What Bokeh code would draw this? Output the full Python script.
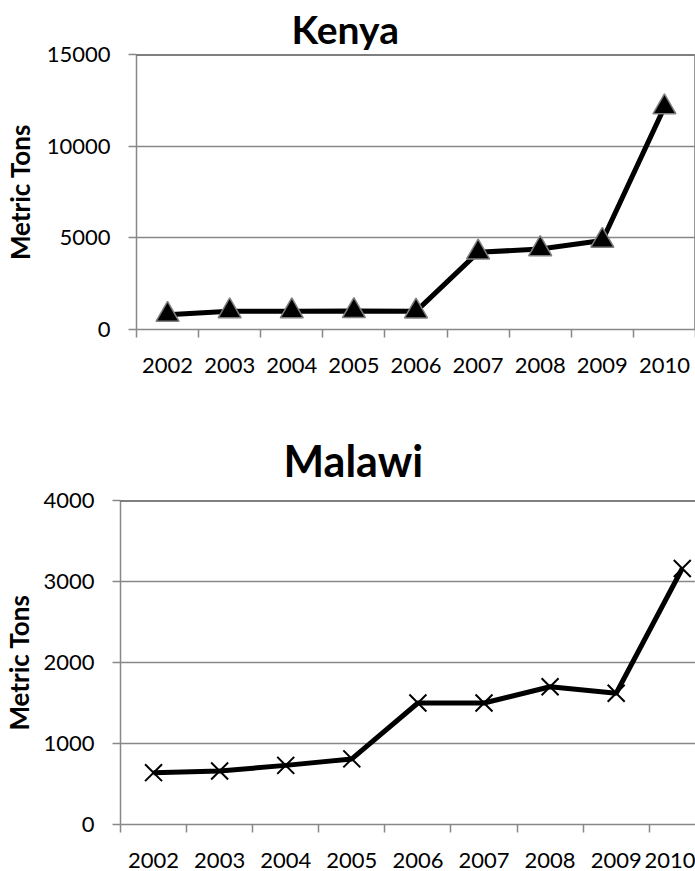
from bokeh.plotting import figure
from bokeh.models import FixedTicker, Span, Range1d
from bokeh.layouts import column
from bokeh.embed import file_html
from bokeh.resources import INLINE

# ---- data ----
years = ["2002", "2003", "2004", "2005", "2006", "2007", "2008", "2009", "2010"]
kenya_tons = [810, 1000, 1000, 1010, 990, 4210, 4390, 4850, 12130]
malawi_tons = [640, 660, 730, 810, 1500, 1500, 1700, 1620, 3160]
kenya_yticks = [0, 5000, 10000, 15000]
malawi_yticks = [0, 1000, 2000, 3000, 4000]
y_title = "Metric Tons"

FONT = "Lato"
GRAY = "#888888"


def make_chart(title, values, yticks, height, x_end, b_left, b_top, b_bottom,
               title_size, title_offset, title_standoff, title_valign,
               tick_standoff, label_standoff, right_border):
    n = len(years)
    xs = [i + 0.5 for i in range(n)]
    p = figure(width=695, height=height, title=title,
               x_range=Range1d(0, x_end), y_range=Range1d(0, yticks[-1]),
               output_backend="svg", toolbar_location=None,
               min_border_left=b_left, min_border_right=0,
               min_border_top=b_top, min_border_bottom=b_bottom)
    p.frame_align = False
    p.outline_line_color = None
    p.background_fill_color = "white"
    p.border_fill_color = "white"

    t = p.title
    t.align = "left"
    t.vertical_align = title_valign
    t.offset = title_offset
    t.standoff = title_standoff
    t.text_font = FONT
    t.text_font_style = "bold"
    t.text_font_size = f"{title_size}px"
    t.text_color = "black"

    # x axis: labels centred in categories, tick marks on boundaries
    xa = p.xaxis[0]
    xa.ticker = FixedTicker(ticks=xs, minor_ticks=list(range(n + 1)))
    xa.major_label_overrides = {x: y for x, y in zip(xs, years)}
    xa.major_tick_out = 0
    xa.major_tick_in = 0
    xa.minor_tick_out = 8
    xa.minor_tick_in = 0
    xa.minor_tick_line_color = GRAY
    xa.minor_tick_line_width = 1.5
    xa.axis_line_color = GRAY
    xa.axis_line_width = 1.5
    xa.major_label_standoff = 20
    xa.major_label_text_font = FONT
    xa.major_label_text_font_size = "22px"
    xa.major_label_text_color = "black"

    ya = p.yaxis[0]
    ya.ticker = FixedTicker(ticks=yticks, minor_ticks=[])
    ya.major_label_overrides = {v: str(v) for v in yticks}
    ya.major_tick_out = 8
    ya.major_tick_in = 0
    ya.major_tick_line_color = GRAY
    ya.major_tick_line_width = 1.5
    ya.axis_line_color = GRAY
    ya.axis_line_width = 1.5
    ya.major_label_standoff = tick_standoff
    ya.major_label_text_font = FONT
    ya.major_label_text_font_size = "22px"
    ya.major_label_text_color = "black"
    ya.axis_label = y_title
    ya.axis_label_text_font = FONT
    ya.axis_label_text_font_style = "bold"
    ya.axis_label_text_font_size = "26px"
    ya.axis_label_text_color = "black"
    ya.axis_label_standoff = label_standoff

    p.xgrid.grid_line_color = None
    p.ygrid.ticker = FixedTicker(ticks=yticks[1:-1])
    p.ygrid.grid_line_color = GRAY
    p.ygrid.grid_line_width = 1.5

    p.add_layout(Span(location=yticks[-1], dimension="width",
                      line_color="black", line_width=2))
    if right_border:
        p.add_layout(Span(location=x_end - 0.01, dimension="height",
                          line_color=GRAY, line_width=1.5))

    p.line(xs, values, line_color="black", line_width=5)
    return p, xs


p1, xs1 = make_chart("Kenya", kenya_tons, kenya_yticks, height=395, x_end=9.0,
                     b_left=135, b_top=52, b_bottom=66, title_size=39,
                     title_offset=155, title_standoff=6, title_valign="bottom",
                     tick_standoff=18, label_standoff=8, right_border=True)
p1.scatter(xs1, kenya_tons, marker="triangle", size=23, fill_color="black",
           line_color="#7f7f7f", line_width=1.5)

p2, xs2 = make_chart("Malawi", malawi_tons, malawi_yticks, height=476, x_end=8.70,
                     b_left=114, b_top=105, b_bottom=47, title_size=43,
                     title_offset=163, title_standoff=26, title_valign="top",
                     tick_standoff=18, label_standoff=5, right_border=False)
p2.scatter(xs2, malawi_tons, marker="x", size=24, line_color="black",
           line_width=2)

layout = column(p1, p2, spacing=0)
open("out.html", "w").write(file_html(layout, INLINE))
